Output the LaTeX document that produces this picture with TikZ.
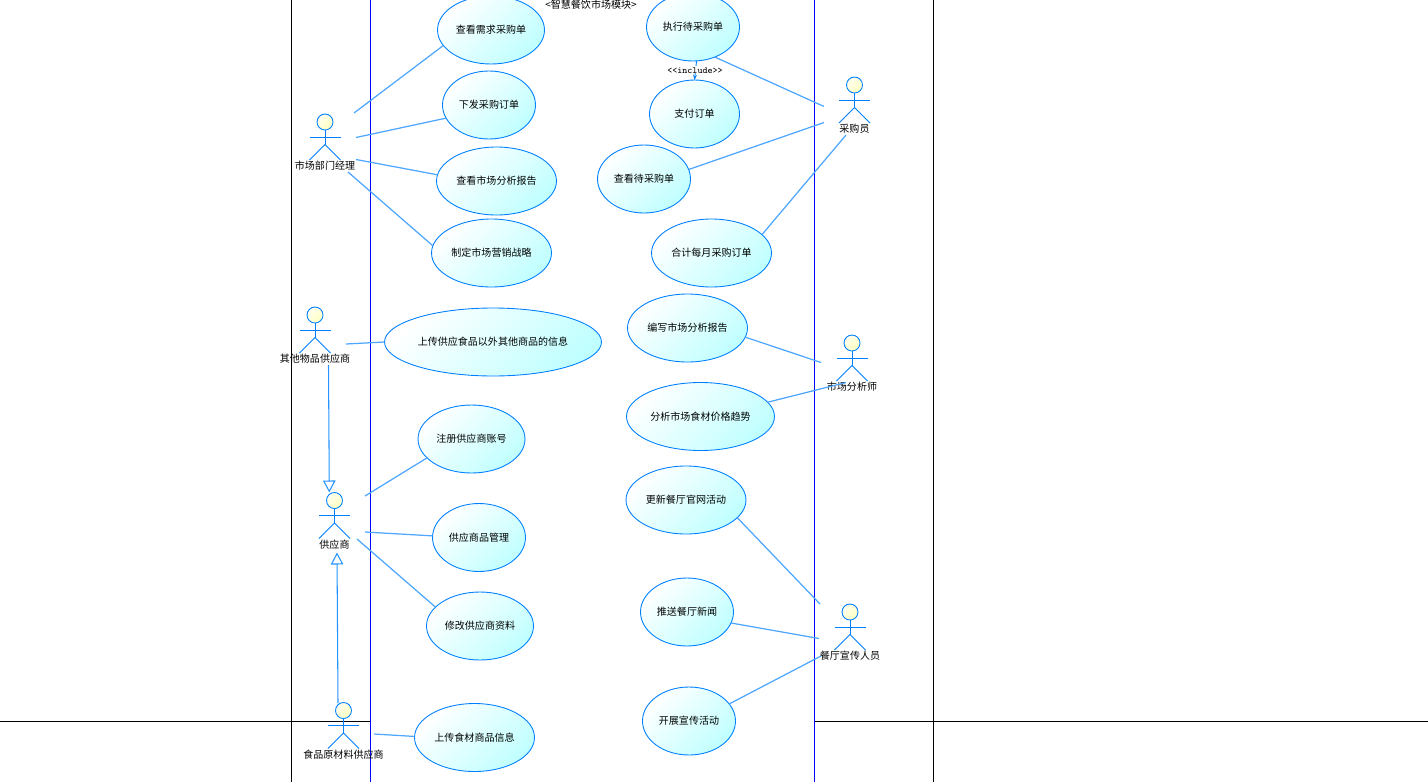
\documentclass[tikz,border=0pt]{standalone}
\usepackage{fontspec}
\setmainfont{Noto Sans CJK SC}
\usetikzlibrary{arrows.meta,shapes.geometric}
\definecolor{Ub}{HTML}{0080FF}
\definecolor{Ul}{HTML}{4DA6FF}
\definecolor{Uc}{HTML}{C0FFFF}
\definecolor{Uh}{HTML}{FFFFC0}
\definecolor{Ut}{HTML}{FFFFF0}
\tikzset{
  uc/.style={ellipse, draw=Ub, top color=white, bottom color=Uc, shading angle=45,
    inner sep=0pt, outer sep=0pt, minimum height=1.36cm, line width=0.5pt,
    font=\fontsize{5.7}{7}\selectfont},
  ucS/.style={uc, minimum width=1.86cm},
  ucM/.style={uc, minimum width=2.14cm},
  ucL/.style={uc, minimum width=2.40cm},
  head/.style={circle, draw=Ub, top color=Ut, bottom color=Uh, shading angle=45,
    inner sep=0pt, outer sep=0pt, minimum size=0.32cm, line width=0.5pt},
  limb/.style={draw=Ub, line width=0.5pt},
  actorname/.style={inner sep=0pt, font=\fontsize{5.7}{7}\selectfont},
  assoc/.style={draw=Ul, line width=0.7pt},
  inherit/.style={-{Triangle[open, length=0.24cm, width=0.25cm, fill=white]}, draw=Ub!85!white, line width=0.6pt},
  incl/.style={-{Stealth[length=3pt]}, draw=Ub, dashed, line width=0.5pt},
  syslane/.style={blue, line width=0.6pt},
  frameline/.style={black, line width=0.6pt},
}
\newcommand{\actor}[4]{%
  \draw[limb] (#2-15.5,#3+15) -- (#2+15.5,#3+15);
  \draw[limb] (#2,#3) -- (#2,#3+22.5);
  \draw[limb] (#2-15.5,#3+38) -- (#2,#3+22.5) -- (#2+15.5,#3+38);
  \node[head] (#1) at (#2,#3) {};
  \node[actorname] (#1Name) at (#2,#3+44) {#4};}

\begin{document}
\begin{tikzpicture}[x=0.02cm,y=-0.02cm]
  \useasboundingbox (0,0) rectangle (1428,782);
  % frame
  \draw[frameline] (291.5,0) -- (291.5,782);
  \draw[frameline] (933.5,0) -- (933.5,782);
  \draw[frameline] (0,721.5) -- (370.5,721.5);
  \draw[frameline] (814.5,721.5) -- (1428,721.5);
  \draw[syslane] (370.5,0) -- (370.5,782);
  \draw[syslane] (814.5,0) -- (814.5,782);
  \node[actorname] (sysTitle) at (591,5) {<智慧餐饮市场模块>};
  % use cases
  \node[ucM] (ucNeed) at (491,30) {查看需求采购单};
  \node[ucS] (ucIssue) at (489,105) {下发采购订单};
  \node[ucL] (ucReport) at (496.5,181) {查看市场分析报告};
  \node[ucL] (ucPlan) at (491.5,253) {制定市场营销战略};
  \node[uc, minimum width=4.34cm] (ucOther) at (493,342) {上传供应食品以外其他商品的信息};
  \node[ucM] (ucReg) at (471.5,439) {注册供应商账号};
  \node[ucS] (ucGoods) at (479,537.5) {供应商品管理};
  \node[ucM] (ucEdit) at (480,626) {修改供应商资料};
  \node[ucL] (ucFood) at (474.5,737.5) {上传食材商品信息};
  \node[ucS] (ucExec) at (693,27) {执行待采购单};
  \node[uc, minimum width=1.80cm] (ucPay) at (694.5,114) {支付订单};
  \node[ucS] (ucPend) at (644,179) {查看待采购单};
  \node[ucL] (ucSum) at (711.5,253) {合计每月采购订单};
  \node[ucL] (ucWrite) at (687.5,328) {编写市场分析报告};
  \node[uc, minimum width=2.96cm] (ucTrend) at (700.5,416.5) {分析市场食材价格趋势};
  \node[ucL] (ucWeb) at (686,500) {更新餐厅官网活动};
  \node[ucS] (ucNews) at (687,612) {推送餐厅新闻};
  \node[ucS] (ucPromo) at (689,721) {开展宣传活动};
  % actors
  \actor{mgr}{325}{122}{市场部门经理}
  \actor{other}{315}{315}{其他物品供应商}
  \actor{sup}{334.5}{500.5}{供应商}
  \actor{food}{343.5}{710.5}{食品原材料供应商}
  \actor{buyer}{854.5}{85}{采购员}
  \actor{analyst}{852}{343}{市场分析师}
  \actor{pub}{850}{612}{餐厅宣传人员}
  % free ends
  \coordinate (mgrA) at (354,113);
  \coordinate (mgrB) at (356,137.5);
  \coordinate (mgrC) at (356,159.5);
  \coordinate (mgrD) at (348,172);
  \coordinate (otherA) at (346,344);
  \coordinate (otherB) at (328.5,365);
  \coordinate (supTop) at (329.3,492.5);
  \coordinate (supA) at (365,496);
  \coordinate (supB) at (365,532);
  \coordinate (supC) at (357,539);
  \coordinate (supBase) at (337,552.5);
  \coordinate (foodA) at (374,734);
  \coordinate (foodB) at (338,703);
  \coordinate (buyerA) at (824,106.5);
  \coordinate (buyerB) at (824,122.5);
  \coordinate (buyerC) at (846,135);
  \coordinate (analystA) at (821,362.5);
  \coordinate (analystB) at (846,382.5);
  \coordinate (pubA) at (820,604);
  \coordinate (pubB) at (819,638.5);
  \coordinate (pubC) at (821,656);
  % connectors
  \draw[assoc] (mgrA) -- (ucNeed.198);
  \draw[assoc] (mgrB) -- (ucIssue.197);
  \draw[assoc] (mgrC) -- (ucReport.174);
  \draw[assoc] (mgrD) -- (ucPlan.173);
  \draw[assoc] (otherA) -- (ucOther.180);
  \draw[assoc] (supA) -- (ucReg.203);
  \draw[assoc] (supB) -- (ucGoods.178);
  \draw[assoc] (supC) -- (ucEdit.157);
  \draw[assoc] (foodA) -- (ucFood.179);
  \draw[assoc] (buyerA) -- (ucExec.-54);
  \draw[assoc] (buyerB) -- (ucPend.12);
  \draw[assoc] (buyerC) -- (ucSum.20);
  \draw[assoc] (analystA) -- (ucWrite.-9);
  \draw[assoc] (analystB) -- (ucTrend.12);
  \draw[assoc] (pubA) -- (ucWeb.-19);
  \draw[assoc] (pubB) -- (ucNews.-14);
  \draw[assoc] (pubC) -- (ucPromo.23);
  \draw[inherit] (otherB) -- (supTop);
  \draw[inherit] (foodB) -- (supBase);
  \draw[incl] (ucExec.-84) -- (ucPay.90);
  \node[inner sep=0pt, fill=white, font=\fontsize{5.4}{6}\ttfamily] (inclTag) at (695,70.5) {{<}{<}include{>}{>}};
\end{tikzpicture}
\end{document}
